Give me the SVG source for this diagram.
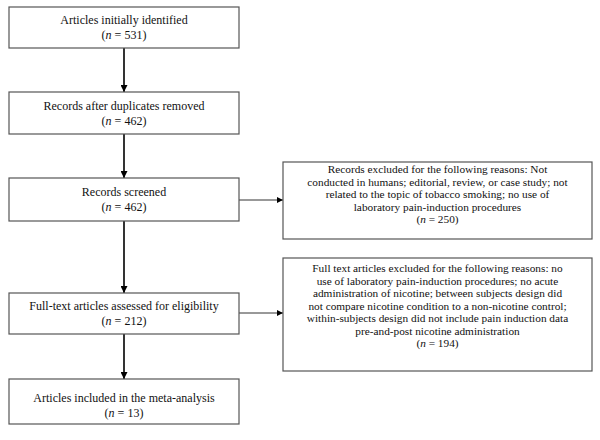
<svg xmlns="http://www.w3.org/2000/svg" width="600" height="440" viewBox="0 0 600 440">
<style>
.box{fill:#fff;stroke:#555;stroke-width:1.2}
text{font-family:"Liberation Serif","Times New Roman",serif;font-size:12px;fill:#111;text-anchor:middle}
.r text{font-size:11.3px}
.v{stroke:#000;stroke-width:1.6;fill:none}
.h{stroke:#333;stroke-width:1;fill:none}
</style>
<defs>
<marker id="ah" viewBox="0 0 10 10" refX="10" refY="5" markerWidth="6" markerHeight="6" markerUnits="userSpaceOnUse" orient="auto"><path d="M0,0L10,5L0,10z" fill="#000"/></marker>
<marker id="ah2" viewBox="0 0 10 10" refX="10" refY="5" markerWidth="7" markerHeight="7" markerUnits="userSpaceOnUse" orient="auto"><path d="M0,0L10,5L0,10z" fill="#000"/></marker>
</defs>
<rect width="600" height="440" fill="#fff"/>
<g id="connectors">
<line class="v" x1="124" y1="48" x2="124" y2="92" marker-end="url(#ah2)"/>
<line class="v" x1="124" y1="134" x2="124" y2="178" marker-end="url(#ah2)"/>
<line class="v" x1="124" y1="221" x2="124" y2="293" marker-end="url(#ah2)"/>
<line class="v" x1="124" y1="334" x2="124" y2="379" marker-end="url(#ah2)"/>
<line class="h" x1="239" y1="200" x2="283" y2="200" marker-end="url(#ah)"/>
<line class="h" x1="239" y1="313" x2="283" y2="313" marker-end="url(#ah)"/>
</g>
<g id="identified">
<rect class="box" x="9" y="7" width="230" height="41"/>
<text x="124" y="24">Articles initially identified</text>
<text x="124" y="38.5">(<tspan font-style="italic">n</tspan> = 531)</text>
</g>
<g id="duplicates">
<rect class="box" x="9" y="92" width="230" height="42"/>
<text x="124" y="110">Records after duplicates removed</text>
<text x="124" y="125">(<tspan font-style="italic">n</tspan> = 462)</text>
</g>
<g id="screened">
<rect class="box" x="9" y="178" width="230" height="43"/>
<text x="124" y="196">Records screened</text>
<text x="124" y="211">(<tspan font-style="italic">n</tspan> = 462)</text>
</g>
<g id="fulltext">
<rect class="box" x="9" y="293" width="230" height="41"/>
<text x="124" y="310">Full-text articles assessed for eligibility</text>
<text x="124" y="325">(<tspan font-style="italic">n</tspan> = 212)</text>
</g>
<g id="included">
<rect class="box" x="9" y="379" width="230" height="45"/>
<text x="124" y="401.5">Articles included in the meta-analysis</text>
<text x="124" y="417">(<tspan font-style="italic">n</tspan> = 13)</text>
</g>
<g id="excluded-records" class="r">
<rect class="box" x="283" y="162" width="309" height="77"/>
<text x="437.5" y="173">Records excluded for the following reasons: Not</text>
<text x="437.5" y="185.5">conducted in humans; editorial, review, or case study; not</text>
<text x="437.5" y="198">related to the topic of tobacco smoking; no use of</text>
<text x="437.5" y="210.5">laboratory pain-induction procedures</text>
<text x="437.5" y="223">(<tspan font-style="italic">n</tspan> = 250)</text>
</g>
<g id="excluded-fulltext" class="r">
<rect class="box" x="283" y="258" width="309" height="113"/>
<text x="437.5" y="272">Full text articles excluded for the following reasons: no</text>
<text x="437.5" y="284.5">use of laboratory pain-induction procedures; no acute</text>
<text x="437.5" y="297">administration of nicotine; between subjects design did</text>
<text x="437.5" y="309.5">not compare nicotine condition to a non-nicotine control;</text>
<text x="437.5" y="322">within-subjects design did not include pain induction data</text>
<text x="437.5" y="334.5">pre-and-post nicotine administration</text>
<text x="437.5" y="347">(<tspan font-style="italic">n</tspan> = 194)</text>
</g>
</svg>
